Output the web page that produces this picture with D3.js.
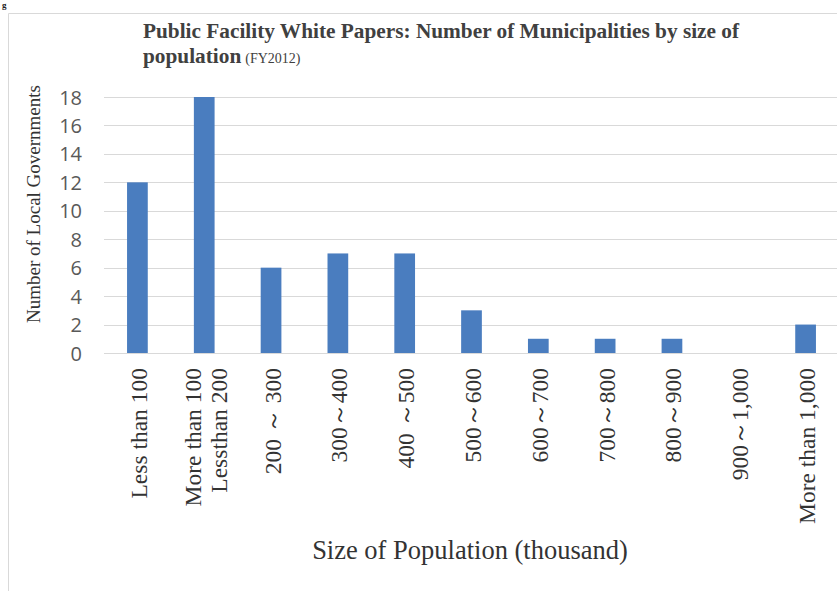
<!DOCTYPE html>
<html>
<head>
<meta charset="utf-8">
<script src="https://cdn.jsdelivr.net/npm/d3@7"></script>
<style>
  html, body { margin: 0; padding: 0; background: #fff; }
  svg { display: block; }
</style>
</head>
<body>
<svg id="chart" width="837" height="591"></svg>
<script>
// Population size bands (each label may wrap onto several lines)
const categories = [
  ["Less than 100"],
  ["More than 100", "Lessthan 200"],
  ["200 ～ 300"],
  ["300～400"],
  ["400 ～500"],
  ["500～600"],
  ["600～700"],
  ["700～800"],
  ["800～900"],
  ["900～1,000"],
  ["More than 1,000"]
];
// Number of local governments in each band
const values = [12, 18, 6, 7, 7, 3, 1, 1, 1, 0, 2];
const yTicks = [0, 2, 4, 6, 8, 10, 12, 14, 16, 18];

const titleLine1 = "Public Facility White Papers: Number of Municipalities by size of";
const titleLine2 = "population";
const titleNote = "(FY2012)";
const yTitle = "Number of Local Governments";
const xTitle = "Size of Population (thousand)";

const svg = d3.select("#chart");
const serif = "'Liberation Serif', 'Times New Roman', serif";
const sans = "'Open Sans', 'Noto Sans', sans-serif";

// Figure caption fragment at the top-left corner
svg.append("text").attr("x", 2).attr("y", 8)
  .attr("font-family", serif).attr("font-weight", "bold").attr("font-size", 9)
  .attr("fill", "#222").text("g");

// Chart frame
svg.append("path")
  .attr("d", "M8.5,591 V13.5 H837")
  .attr("fill", "none").attr("stroke", "#d9d9d9").attr("stroke-width", 1);

const x = d3.scaleBand()
  .domain(d3.range(categories.length))
  .range([104, 839])
  .paddingInner(0.69)
  .paddingOuter(0.345);

const y = d3.scaleLinear().domain([0, 18]).range([353, 97]);

// Horizontal gridlines
svg.append("g").selectAll("line").data(yTicks.filter(t => t > 0)).join("line")
  .attr("x1", 104).attr("x2", 839)
  .attr("y1", d => Math.round(y(d)) + 0.5).attr("y2", d => Math.round(y(d)) + 0.5)
  .attr("stroke", "#d9d9d9").attr("stroke-width", 1);

// Bars
svg.append("g").selectAll("rect").data(values).join("rect")
  .attr("x", (d, i) => x(i))
  .attr("width", x.bandwidth())
  .attr("y", d => y(d))
  .attr("height", d => y(0) - y(d))
  .attr("fill", "#4a7dbf");

// Baseline
svg.append("line")
  .attr("x1", 104).attr("x2", 839)
  .attr("y1", Math.round(y(0)) + 0.5).attr("y2", Math.round(y(0)) + 0.5)
  .attr("stroke", "#d9d9d9").attr("stroke-width", 1);

// Y axis tick labels
const yAxis = d3.axisLeft(y).tickValues(yTicks).tickSize(0).tickPadding(0);
const yg = svg.append("g").attr("transform", "translate(82,0)").call(yAxis);
yg.select(".domain").remove();
yg.selectAll("text")
  .attr("font-family", sans).attr("font-size", 20).attr("fill", "#595959")
  .attr("dy", "0.35em");

// X axis category labels, rotated
const xl = svg.append("g").selectAll("text").data(categories).join("text")
  .attr("transform", (d, i) => `translate(${x(i) + x.bandwidth() / 2},368) rotate(-90)`)
  .attr("text-anchor", "end")
  .attr("font-family", serif).attr("font-size", 23.5).attr("fill", "#333");
xl.selectAll("tspan").data(d => d.map((s, k) => ({ s, k, n: d.length }))).join("tspan")
  .attr("x", 0)
  .attr("y", t => (t.k - (t.n - 1) / 2) * 26 + 1.5)
  .attr("dominant-baseline", "central")
  .text(t => t.s);

// Axis titles
svg.append("text")
  .attr("transform", "translate(33,204) rotate(-90)")
  .attr("text-anchor", "middle").attr("dominant-baseline", "central")
  .attr("font-family", serif).attr("font-size", 19).attr("fill", "#333")
  .text(yTitle);

svg.append("text")
  .attr("x", 470).attr("y", 559)
  .attr("text-anchor", "middle")
  .attr("font-family", serif).attr("font-size", 26.5).attr("fill", "#333")
  .text(xTitle);

// Chart title
svg.append("text").attr("x", 143).attr("y", 38)
  .attr("font-family", serif).attr("font-weight", "bold").attr("font-size", 21.3)
  .attr("fill", "#404040").text(titleLine1);
const t2 = svg.append("text").attr("x", 143).attr("y", 63)
  .attr("font-family", serif).attr("fill", "#404040");
t2.append("tspan").attr("font-weight", "bold").attr("font-size", 21.3).text(titleLine2);
t2.append("tspan").attr("font-size", 14).attr("dx", 4).text(titleNote);
</script>
</body>
</html>
